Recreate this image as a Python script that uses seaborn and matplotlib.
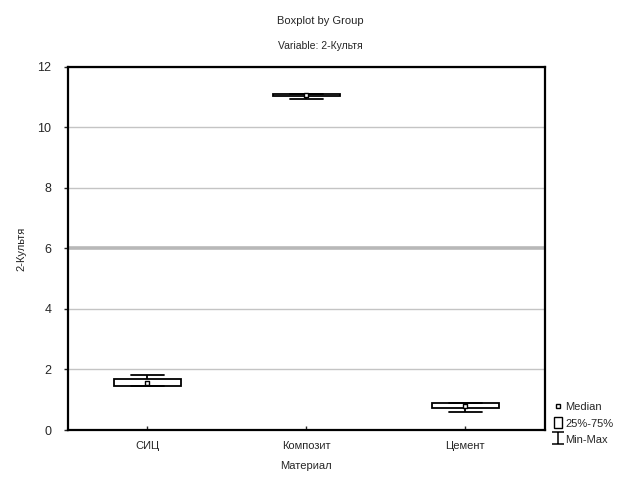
import pandas as pd
import matplotlib.pyplot as plt
import seaborn as sns
from matplotlib.lines import Line2D
from matplotlib.patches import Patch
from matplotlib.path import Path

# Summary values (min, Q1, median, Q3, max per group)
groups = ["СИЦ", "Композит", "Цемент"]
mins = [1.45, 10.95, 0.60]
q1s = [1.45, 11.05, 0.73]
medians = [1.56, 11.08, 0.80]
q3s = [1.69, 11.12, 0.89]
maxs = [1.82, 11.12, 0.89]
y_ticks = [0, 2, 4, 6, 8, 10, 12]

# five points per group reproduce exactly these quartiles
rows = []
for g, a, b, c, d, e in zip(groups, mins, q1s, medians, q3s, maxs):
    for v in (a, b, c, d, e):
        rows.append({"Материал": g, "2-Культя": v})
df = pd.DataFrame(rows)
med_df = pd.DataFrame({"Материал": groups, "2-Культя": medians})

sns.set_style("white")
plt.rcParams["font.family"] = ["Liberation Sans", "DejaVu Sans"]

fig = plt.figure(figsize=(6.41, 4.78), dpi=100)
ax = fig.add_axes([0.106, 0.1004, 0.744, 0.7596])

sns.boxplot(data=df, x="Материал", y="2-Культя", order=groups, ax=ax,
            whis=(0, 100), width=0.42, color="white", linecolor="black",
            linewidth=1.3, showfliers=False,
            medianprops=dict(linewidth=0, alpha=0))
sns.stripplot(data=med_df, x="Материал", y="2-Культя", order=groups, ax=ax,
              jitter=False, marker="s", size=3, color="white",
              edgecolor="black", linewidth=1.0, zorder=5)

ax.set_ylim(0, 12)
ax.set_xlim(-0.5, 2.5)
ax.set_yticks(y_ticks)
ax.set_yticklabels([str(t) for t in y_ticks], fontsize=9)
ax.tick_params(axis="y", direction="out", length=3, width=1, left=True, pad=9)
ax.tick_params(axis="x", direction="in", length=3, width=1, bottom=True,
               labelsize=8, pad=8)
ax.yaxis.grid(True, color="#c4c4c4", linewidth=1)
ax.get_ygridlines()[3].set_linewidth(2.6)
ax.get_ygridlines()[3].set_color("#b8b8b8")
ax.set_axisbelow(True)
for s in ax.spines.values():
    s.set_visible(True)
    s.set_color("black")
    s.set_linewidth(1.6)

ax.set_xlabel("Материал", fontsize=8, labelpad=7)
ax.set_ylabel("2-Культя", fontsize=8, labelpad=8)

fig.text(0.5, 0.956, "Boxplot by Group", ha="center", va="center", fontsize=8)
fig.text(0.5, 0.903, "Variable: 2-Культя", ha="center", va="center", fontsize=7.5)

i_marker = Path([(-1, 1), (1, 1), (0, 1), (0, -1), (-1, -1), (1, -1)],
                [Path.MOVETO, Path.LINETO, Path.MOVETO, Path.LINETO,
                 Path.MOVETO, Path.LINETO])
handles = [
    Line2D([], [], marker="s", markersize=3.5, markerfacecolor="white",
           markeredgecolor="black", linestyle="none"),
    Patch(facecolor="white", edgecolor="black", linewidth=1),
    Line2D([], [], marker=i_marker, markersize=8, markeredgewidth=1.1,
           color="black", linestyle="none"),
]
fig.legend(handles, ["Median", "25%-75%", "Min-Max"], loc="upper left",
           bbox_to_anchor=(0.856, 0.172), frameon=False, fontsize=8,
           handlelength=0.7, handleheight=1.1, handletextpad=0.3,
           labelspacing=0.45, borderpad=0)

fig.savefig("out.png", dpi=100)
